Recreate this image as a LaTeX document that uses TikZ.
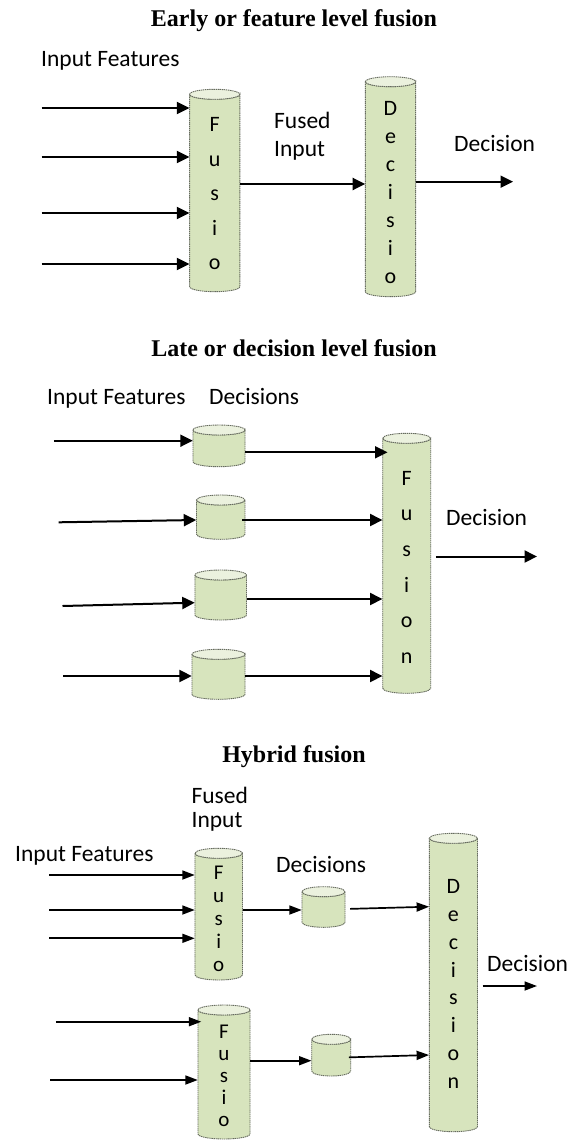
\documentclass[tikz,border=0pt]{standalone}
\usepackage{fontspec}
\setmainfont{Liberation Serif}
\newfontfamily\carl{Carlito}
\usetikzlibrary{arrows.meta}
\definecolor{drumfill}{HTML}{D7E4BD}
\definecolor{drumtopfill}{HTML}{EBF1DE}
\definecolor{drumline}{HTML}{666B5E}
\tikzset{
  drumbody/.style={fill=drumfill, draw=drumline, line width=0.9pt, dash pattern=on 1.4pt off 0.7pt},
  drumtop/.style={fill=drumtopfill, draw=drumline, line width=0.9pt, dash pattern=on 1.4pt off 0.7pt},
  drumtext/.style 2 args={inner sep=0pt, align=center, font=\carl\fontsize{#1}{#2}\selectfont},
  drumnode/.style={inner sep=0pt, minimum height=10pt},
  lab/.style={inner sep=0pt, font=\carl\fontsize{23.5}{28}\selectfont},
  ttl/.style={inner sep=0pt, anchor=base, font=\bfseries\fontsize{24}{28}\selectfont},
  arrA/.style={line width=2pt, -{Triangle[length=12.5pt,width=12pt]}},
  arrC/.style={line width=1.7pt, -{Triangle[length=12.5pt,width=9pt]}}
}
% cx, width, top edge, bottom edge, y radius
\newcommand\drum[5]{%
  \pgfmathsetmacro\drumL{#1-#2/2}%
  \pgfmathsetmacro\drumR{#1+#2/2}%
  \pgfmathsetmacro\drumRx{#2/2}%
  \pgfmathsetmacro\drumT{#3+#5}%
  \pgfmathsetmacro\drumB{#4-#5}%
  \filldraw[drumbody] (\drumL,\drumT) -- (\drumL,\drumB)
    arc[start angle=180, end angle=0, x radius=\drumRx, y radius=#5]
    -- (\drumR,\drumT) arc[start angle=0, end angle=180, x radius=\drumRx, y radius=#5] -- cycle;
  \filldraw[drumtop] (#1,\drumT) ellipse[x radius=\drumRx, y radius=#5];
}
\begin{document}
\begin{tikzpicture}[x=1pt,y=-1pt]
\useasboundingbox (0,0) rectangle (579,1140);
\fill[white] (0,0) rectangle (579,1140);

% ---------------- titles
\node[ttl] (t1) at (294,26.3) {Early or feature level fusion};
\node[ttl] (t2) at (294,356) {Late or decision level fusion};
\node[ttl] (t3) at (294,762) {Hybrid fusion};

% ---------------- section 1
\node[lab, anchor=base west] (if1) at (41,66.7) {Input Features};
\drum{214.7}{50.2}{89.3}{291.7}{5}
\node[drumtext={22}{34.5}, minimum width=50.2pt] (f1) at (214.7,194) {F\\u\\s\\i\\o};
\drum{390.5}{50.2}{76.7}{296.7}{5}
\node[drumtext={22}{28}, minimum width=50.2pt] (d1) at (390.5,192.3) {D\\e\\c\\i\\s\\i\\o};
\node[lab, anchor=north west, align=left, font=\carl\fontsize{23.5}{28.3}\selectfont] (fi1) at (274,111.5) {Fused\\Input};
\node[lab, anchor=base west] (dl1) at (454,151.7) {Decision};

\foreach \y [count=\i] in {108,157,213,264} {
  \coordinate (s1in\i) at (41.6,\y);
  \draw[arrA] (s1in\i) -- (f1.west |- s1in\i);
}
\draw[arrA] (f1.east |- 0,184) -- (d1.west |- 0,184);
\coordinate (s1out) at (513,181.7);
\draw[arrA] (d1.east |- s1out) -- (s1out);

% ---------------- section 2
\node[lab, anchor=base west] (if2) at (47,404.4) {Input Features};
\node[lab, anchor=base west] (ds2) at (209,404.4) {Decisions};
\drum{219}{52}{425}{466.7}{5}
\node[drumnode, minimum width=52pt] (c1) at (219,446) {};
\drum{220.7}{48.5}{495}{539.3}{5}
\node[drumnode, minimum width=48.5pt] (c2) at (220.7,517) {};
\drum{220.7}{51.5}{570}{620}{5}
\node[drumnode, minimum width=51.5pt] (c3) at (220.7,595) {};
\drum{218.5}{53}{649.3}{699.3}{5}
\node[drumnode, minimum width=53pt] (c4) at (218.5,674) {};
\drum{406.7}{48}{433.3}{693.3}{5}
\node[drumtext={22}{35.6}, minimum width=48pt] (f2) at (406.7,567.3) {F\\u\\s\\i\\o\\n};
\node[lab, anchor=base west] (dl2) at (446,525.7) {Decision};

\coordinate (s2in1) at (53.9,440.7);
\draw[arrA] (s2in1) -- (c1.west |- s2in1);
\coordinate (s2in2) at (58.7,522.3);
\draw[arrA] (s2in2) -- (c2.west |- 0,520);
\coordinate (s2in3) at (62.5,606);
\draw[arrA] (s2in3) -- (c3.west |- 0,602.7);
\coordinate (s2in4) at (63.2,676);
\draw[arrA] (s2in4) -- (c4.west |- s2in4);

\draw[arrA, shorten >=-5pt] (c1.east |- 0,452.3) -- (f2.west |- 0,452.3);
\draw[arrA, shorten <=-3pt] (c2.east |- 0,520) -- (f2.west |- 0,520);
\draw[arrA] (c3.east |- 0,599) -- (f2.west |- 0,599);
\draw[arrA] (c4.east |- 0,676) -- (f2.west |- 0,676);
\coordinate (s2out) at (537,556.5);
\draw[arrA, shorten <=5pt] (f2.east |- s2out) -- (s2out);

% ---------------- section 3
\node[lab, anchor=north west, align=left, font=\carl\fontsize{23.5}{24}\selectfont] (fi3) at (191.4,786.5) {Fused\\Input};
\node[lab, anchor=base west] (if3) at (15,861.7) {Input Features};
\node[lab, anchor=base west] (ds3) at (276,872.7) {Decisions};
\drum{218.7}{47.5}{848.3}{980}{5}
\node[drumtext={21}{22.85}, minimum width=47.5pt] (fA) at (218.7,919) {F\\u\\s\\i\\o};
\drum{323.5}{43}{886.7}{927.3}{5}
\node[drumnode, minimum width=43pt] (cA) at (323.5,907) {};
\drum{453.4}{48.2}{833.3}{1131.7}{5}
\node[drumtext={22}{27.8}, minimum width=48.2pt] (d3) at (453.4,984) {D\\e\\c\\i\\s\\i\\o\\n};
\drum{224}{52}{1005}{1139}{5}
\node[drumtext={21}{22}, minimum width=52pt] (fB) at (224,1075.7) {F\\u\\s\\i\\o};
\drum{331.2}{39}{1034.3}{1076}{5}
\node[drumnode, minimum width=39pt] (cB) at (331.2,1055) {};
\node[lab, anchor=base west] (dl3) at (487,971) {Decision};

\foreach \y [count=\i] in {875,910,938.3} {
  \coordinate (s3a\i) at (49.3,\y);
  \draw[arrC] (s3a\i) -- (fA.west |- s3a\i);
}
\coordinate (s3b1) at (55.8,1021.7);
\draw[arrC, shorten >=-3.5pt] (s3b1) -- (fB.west |- s3b1);
\coordinate (s3b2) at (50,1080);
\draw[arrC] (s3b2) -- (fB.west |- s3b2);
\draw[arrC] (fA.east |- 0,910) -- (cA.west |- 0,910);
\draw[arrC, shorten <=5pt] (cA.east |- 0,909) -- (d3.west |- 0,906.7);
\draw[arrC] (fB.east |- 0,1060.7) -- (cB.west |- 0,1060.7);
\draw[arrC, shorten <=-2pt] (cB.east |- 0,1057.3) -- (d3.west |- 0,1055);
\coordinate (s3out) at (537,986);
\draw[arrC, shorten <=5pt] (d3.east |- s3out) -- (s3out);
\end{tikzpicture}
\end{document}
